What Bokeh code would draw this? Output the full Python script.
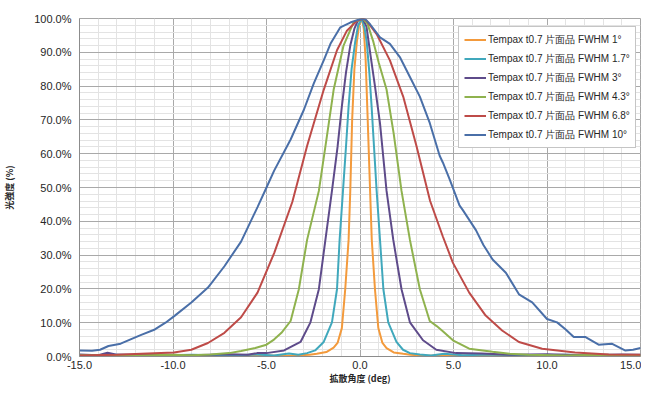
from bokeh.plotting import figure
from bokeh.models import (FixedTicker, NumeralTickFormatter, Legend, LegendItem,
                          ColumnDataSource)
from bokeh.embed import file_html
from bokeh.resources import INLINE
import numpy as np

labels = ["Tempax t0.7 片面品 FWHM 1°", "Tempax t0.7 片面品 FWHM 1.7°",
          "Tempax t0.7 片面品 FWHM 3°", "Tempax t0.7 片面品 FWHM 4.3°",
          "Tempax t0.7 片面品 FWHM 6.8°", "Tempax t0.7 片面品 FWHM 10°"]
colors = ["#F39A3C", "#40A8BC", "#5E4B8A", "#8FB24E", "#BE4B48", "#4A6FA8"]

x_ticks = [-15, -10, -5, 0, 5, 10, 15]
y_ticks = [0, 10, 20, 30, 40, 50, 60, 70, 80, 90, 100]

# angle (deg) / intensity (%)
fwhm1_x = [-15, -13.5, -12, -10, -8, -6, -4.5, -3.5, -2.7, -2.31, -1.8, -1.41, -1.2, -0.97,
           -0.79, -0.61, -0.52, -0.42, -0.3, -0.17, -0.05, 0.1, 0.2, 0.3, 0.4, 0.54, 0.63,
           0.8, 0.98, 1.2, 1.42, 1.8, 2.31, 2.7, 3.5, 5, 7, 9, 11, 13, 15]
fwhm1_y = [0.2, 0.4, 0.2, 0.3, 0.2, 0.4, 0.2, 0.3, 0.5, 0.8, 1.3, 2.6, 4.0, 8.4,
           19.9, 34.5, 49, 70, 85, 93, 98, 100, 97, 88, 72, 49, 34.5,
           19.9, 8.4, 4.0, 2.5, 1.2, 0.8, 0.5, 0.2, 0.3, 0.2, 0.4, 0.2, 0.3, 0.2]

fwhm17_x = [-15, -13, -11, -9, -7, -5.5, -4.6, -3.8, -3.3, -2.83, -2.4, -1.94, -1.5, -1.23,
            -1.09, -0.91, -0.75, -0.61, -0.45, -0.26, -0.1, 0.1, 0.25, 0.36, 0.5, 0.62, 0.75,
            0.89, 1.07, 1.25, 1.51, 1.95, 2.3, 2.67, 3.2, 3.8, 4.5, 5.5, 7, 9, 11, 13, 15]
fwhm17_y = [0.3, 0.5, 0.3, 0.5, 0.3, 0.6, 0.3, 0.9, 0.5, 1.0, 1.8, 4.3, 10.1, 19.9,
            34.5, 49, 62, 74, 85, 93, 98, 100, 97, 93, 84, 74, 62,
            49, 34.5, 19.9, 10.1, 4.3, 2.0, 1.0, 0.6, 0.3, 0.8, 0.4, 0.6, 0.3, 0.5, 0.3, 0.4]

fwhm3_x = [-15, -14, -13.5, -13, -11, -9, -7, -6, -5.5, -5, -4.06, -3.18, -2.65, -2.2,
           -1.85, -1.5, -1.2, -0.97, -0.75, -0.52, -0.3, -0.1, 0.15, 0.35, 0.54, 0.8, 1.07,
           1.42, 1.78, 2.22, 2.67, 3.37, 4.08, 5.14, 6.5, 8, 10, 12, 14, 15]
fwhm3_y = [0.6, 0.4, 1.1, 0.5, 0.6, 0.4, 0.7, 0.5, 1.0, 1.0, 1.8, 4.3, 10.1, 19.9,
           34.5, 49, 62, 74, 84, 92, 97, 99.5, 100, 97.5, 90, 80, 69,
           49, 34.5, 19.9, 10.1, 4.8, 2.0, 1.0, 0.9, 0.5, 0.7, 0.4, 0.6, 0.5]

fwhm43_x = [-15, -12, -10, -9, -8, -7, -6.36, -5.6, -5.0, -4.6, -4.2, -3.71, -3.27, -2.83,
            -2.2, -1.8, -1.41, -0.88, -0.35, 0.15, 0.4, 0.72, 1.0, 1.42, 1.8, 2.22, 2.67,
            3.2, 3.73, 4.1, 4.43, 4.97, 5.84, 7.09, 8, 9, 11, 13, 15]
fwhm43_y = [0.4, 0.3, 0.5, 0.4, 0.6, 1.0, 1.6, 2.5, 3.5, 5.0, 7.0, 10.5, 19.9, 34.5,
            49, 64, 78.9, 92, 98.8, 100, 98.5, 93, 87, 79, 66, 49, 34.5,
            19.9, 10.5, 9.0, 7.5, 4.8, 2.3, 1.4, 0.8, 0.5, 0.3, 0.5, 0.3]

fwhm68_x = [-15, -13, -11.7, -9.95, -9.02, -8.13, -7.25, -6.36, -5.48, -4.59, -3.62, -2.83,
            -1.94, -1.23, -0.7, -0.17, 0.2, 0.36, 0.89, 1.6, 2.31, 3.02, 3.75, 4.43, 4.97,
            5.84, 6.72, 7.6, 8.5, 9.74, 11.5, 13.3, 15]
fwhm68_y = [0.3, 0.5, 0.8, 1.2, 2.0, 4.0, 7.0, 11.6, 18.9, 30.6, 45.7, 62.3,
            78.9, 90.6, 96.4, 99.3, 100, 99.3, 95.4, 87.6, 76.9, 62.3, 46, 35.5, 27.7,
            18.9, 12.1, 7.7, 4.3, 2.3, 1.2, 0.6, 0.5]

fwhm10_x = [-15, -14.33, -13.9, -13.45, -12.8, -12.3, -11.7, -10.97, -10.4, -9.9, -9.02,
            -8.13, -7.25, -6.36, -5.48, -5.0, -4.59, -3.71, -3.0, -2.47, -1.94, -1.58, -1.05,
            -0.52, 0.01, 0.28, 0.54, 1.07, 1.6, 2.13, 2.67, 3.2, 3.73, 4.26, 4.43, 4.79, 5.32,
            5.5, 6.2, 6.6, 7.09, 7.8, 8.5, 9.21, 10.0, 10.54, 11.0, 11.43, 12.04, 12.76,
            13.46, 14.17, 14.6, 15.0]
fwhm10_y = [1.8, 1.7, 2.0, 3.1, 3.8, 5.0, 6.4, 8.0, 10.0, 12.1, 16.0,
            20.4, 26.7, 34.0, 44.2, 50, 55, 64.2, 73.0, 80.8, 87.6, 92.5, 97.4,
            98.8, 99.8, 99.8, 98.3, 94.4, 92.5, 88.6, 82.7, 76.9, 69.1, 59.4, 57.4, 52.5, 44.7,
            43.3, 37.4, 33, 28.7, 24.8, 18.4, 16.0, 11.1, 10.1, 8.0, 5.8, 5.8, 3.5,
            3.8, 1.8, 2.0, 2.5]

series_x = [fwhm1_x, fwhm17_x, fwhm3_x, fwhm43_x, fwhm68_x, fwhm10_x]
series_y = [fwhm1_y, fwhm17_y, fwhm3_y, fwhm43_y, fwhm68_y, fwhm10_y]

p = figure(width=641, height=387, output_backend="svg", toolbar_location=None,
           x_range=(-15, 15), y_range=(0, 1),
           min_border_left=75, min_border_right=1, min_border_top=18, min_border_bottom=27)
p.background_fill_color = "white"
p.border_fill_color = "white"
p.outline_line_color = "#a6a6a6"
p.outline_line_width = 1

p.xaxis.ticker = FixedTicker(ticks=x_ticks, minor_ticks=list(range(-15, 16)))
p.yaxis.ticker = FixedTicker(ticks=[v / 100 for v in y_ticks],
                             minor_ticks=[v / 100 for v in range(0, 101, 2)])
p.xaxis.formatter = NumeralTickFormatter(format="0.0")
p.yaxis.formatter = NumeralTickFormatter(format="0.0%")

for ax in (p.xaxis, p.yaxis):
    ax.major_tick_line_color = None
    ax.minor_tick_line_color = None
    ax.major_tick_out = 0
    ax.major_tick_in = 0
    ax.minor_tick_out = 0
    ax.minor_tick_in = 0
    ax.axis_line_color = "#8c8c8c"
    ax.major_label_text_font = "Liberation Sans"
    ax.major_label_text_font_size = "11px"
    ax.major_label_text_color = "#262626"
p.xaxis.major_label_standoff = 4
p.yaxis.major_label_standoff = 8

p.yaxis.axis_label = "光強度 (%)"
p.yaxis.axis_label_text_font = "Noto Sans CJK JP"
p.yaxis.axis_label_text_font_size = "9px"
p.yaxis.axis_label_text_font_style = "bold"
p.yaxis.axis_label_text_color = "#262626"
p.yaxis.axis_label_standoff = 15

p.xaxis.axis_label = "拡散角度 (deg)"
p.xaxis.axis_label_text_font = "Noto Sans CJK JP"
p.xaxis.axis_label_text_font_size = "9px"
p.xaxis.axis_label_text_font_style = "bold"
p.xaxis.axis_label_text_color = "#262626"
p.xaxis.axis_label_standoff = 0

p.xgrid.grid_line_color = "#a9a9a9"
p.ygrid.grid_line_color = "#a9a9a9"
p.xgrid.minor_grid_line_color = "#e3e3e3"
p.ygrid.minor_grid_line_color = "#e3e3e3"

items = []
for lab, col, xs, ys in zip(labels, colors, series_x, series_y):
    src = ColumnDataSource(dict(x=xs, y=np.array(ys) / 100.0))
    r = p.line("x", "y", source=src, line_color=col, line_width=2)
    items.append(LegendItem(label=lab, renderers=[r]))

legend = Legend(items=items, location=(379, 208))
legend.border_line_color = "#8c8c8c"
legend.border_line_width = 1
legend.background_fill_color = "white"
legend.background_fill_alpha = 1
legend.label_text_font = "Liberation Sans"
legend.label_text_font_size = "10px"
legend.label_text_color = "#262626"
legend.glyph_width = 22
legend.glyph_height = 15
legend.label_height = 15
legend.label_standoff = 2
legend.spacing = 4
legend.padding = 5
legend.margin = 0
p.add_layout(legend, "center")

open("out.html", "w").write(file_html(p, INLINE))
